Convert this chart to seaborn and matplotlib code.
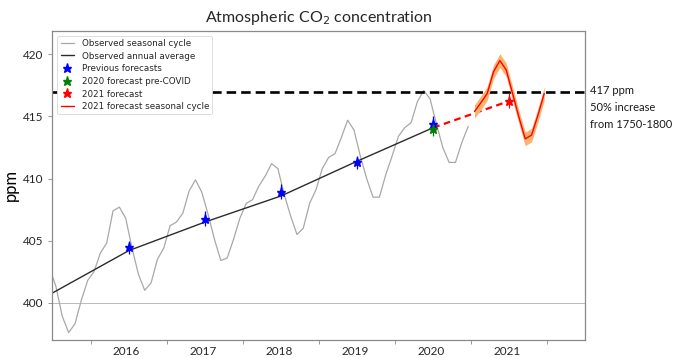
import numpy as np
import pandas as pd
import matplotlib
matplotlib.use('Agg')
import matplotlib.pyplot as plt
import seaborn as sns

sns.set_theme(style='white')

# Observed monthly CO2 (ppm), June 2015 to December 2020
obs_start_year, obs_start_month = 2015, 6
obs_monthly = [402.8, 401.3, 398.9, 397.6, 398.3, 400.2, 401.8,
               402.5, 404.0, 404.8, 407.4, 407.7, 406.8, 404.4, 402.3, 401.0, 401.6, 403.5, 404.4,
               406.2, 406.5, 407.2, 409.0, 409.9, 408.9, 407.1, 405.1, 403.4, 403.6, 405.1, 406.8,
               408.0, 408.3, 409.4, 410.2, 411.2, 410.8, 408.7, 407.0, 405.5, 406.0, 408.0, 409.1,
               410.8, 411.7, 412.0, 413.3, 414.7, 413.9, 411.8, 410.0, 408.5, 408.5, 410.3, 411.8,
               413.4, 414.1, 414.5, 416.2, 417.1, 416.4, 414.4, 412.5, 411.3, 411.3, 412.9, 414.2]

# Observed annual averages
annual_years = [2015, 2016, 2017, 2018, 2019, 2020]
annual_ppm = [400.8, 404.2, 406.5, 408.6, 411.4, 414.1]

# Previous forecasts
prev_years = [2016, 2017, 2018, 2019, 2020]
prev_ppm = [404.45, 406.75, 408.95, 411.3, 414.4]
prev_err = [0.55, 0.6, 0.6, 0.55, 0.6]

# 2020 forecast pre-COVID
precovid_year = [2020]
precovid_ppm = [414.0]
precovid_err = [0.6]

# 2021 forecast
fc_year = [2021]
fc_ppm = [416.25]
fc_err = [0.6]

# 2021 forecast seasonal cycle (monthly)
fc_monthly = [415.4, 416.1, 416.85, 418.6, 419.5, 418.75, 416.85, 414.95, 413.2, 413.5, 415.1, 416.85]
fc_band = 0.55

threshold = 417


def decimal_months(year, month, n):
    """Mid-month positions in decimal years."""
    idx = np.arange(n) + (month - 1)
    return year + (idx + 0.5) / 12


obs_df = pd.DataFrame({'t': decimal_months(obs_start_year, obs_start_month, len(obs_monthly)),
                       'ppm': obs_monthly})
ann_df = pd.DataFrame({'t': np.array(annual_years) + 0.5, 'ppm': annual_ppm})
fc_df = pd.DataFrame({'t': decimal_months(2021, 1, len(fc_monthly)), 'ppm': fc_monthly})

fig = plt.figure(figsize=(6.8, 3.58), dpi=100)
ax = fig.add_axes([0.0765, 0.0503, 0.7845, 0.8637])

sns.lineplot(data=obs_df, x='t', y='ppm', ax=ax, color='#a8a8a8', lw=0.9,
             sort=False, estimator=None, label='Observed seasonal cycle')
sns.lineplot(data=ann_df, x='t', y='ppm', ax=ax, color='#2b2b2b', lw=1.0,
             sort=False, estimator=None, label='Observed annual average')

ax.axhline(400, color='#b0b0b0', lw=0.6, zorder=1)
ax.axhline(threshold, color='black', lw=1.9, dashes=(3.6, 1.9), zorder=2)

# dashed line from last observed annual mean to 2021 forecast
ax.plot([ann_df['t'].iloc[-1], fc_year[0] + 0.5], [annual_ppm[-1], fc_ppm[0]],
        color='red', lw=1.6, dashes=(3.0, 2.0), zorder=3)

ax.fill_between(fc_df['t'], fc_df['ppm'] - fc_band, fc_df['ppm'] + fc_band,
                color='#fdb36e', lw=0, zorder=3)

star_kw = dict(ms=6.5, zorder=6, linestyle='none')
ax.errorbar(np.array(prev_years) + 0.5, prev_ppm, yerr=prev_err, fmt='none',
            ecolor='blue', elinewidth=0.9, zorder=5)
ax.plot(np.array(prev_years) + 0.5, prev_ppm, '*', color='blue', label='Previous forecasts', **star_kw)
ax.errorbar(np.array(precovid_year) + 0.5, precovid_ppm, yerr=precovid_err, fmt='none',
            ecolor='green', elinewidth=0.9, zorder=5)
ax.plot(np.array(precovid_year) + 0.5, precovid_ppm, '*', color='green',
        label='2020 forecast pre-COVID', **star_kw)
ax.errorbar(np.array(fc_year) + 0.5, fc_ppm, yerr=fc_err, fmt='none',
            ecolor='red', elinewidth=0.9, zorder=5)
ax.plot(np.array(fc_year) + 0.5, fc_ppm, '*', color='red', label='2021 forecast', **star_kw)

sns.lineplot(data=fc_df, x='t', y='ppm', ax=ax, color='red', lw=1.0, sort=False,
             estimator=None, label='2021 forecast seasonal cycle', zorder=4)

ax.set_xlim(2015.49, 2022.5)
ax.set_ylim(397, 421.9)

year_ticks = list(range(2016, 2023))
ax.set_xticks(year_ticks)
ax.set_xticklabels([])
label_years = list(range(2016, 2022))
ax.set_xticks([y + 0.47 for y in label_years], minor=True)
ax.set_xticklabels([str(y) for y in label_years], minor=True, family='Lato', fontsize=8.5, color='#262626')
ax.tick_params(axis='x', which='major', direction='out', length=3, width=0.6, color='#888888', bottom=True)
ax.tick_params(axis='x', which='minor', length=0, pad=4, bottom=True)

ax.set_yticks([400, 405, 410, 415, 420])
ax.set_yticklabels(['400', '405', '410', '415', '420'], family='Lato', fontsize=8.5, color='#262626')
ax.tick_params(axis='y', direction='out', length=3, width=0.6, color='#888888', left=True, pad=3)

ax.set_xlabel('')
ax.set_ylabel('ppm', family='Lato', fontsize=12, color='black', labelpad=3)

for sp in ax.spines.values():
    sp.set_color('#8a8a8a')
    sp.set_linewidth(0.9)

ax.set_title('Atmospheric CO$_2$ concentration', family='Lato', fontsize=11.5, pad=6)

ax.text(1.008, (threshold - 397) / (421.9 - 397) + 0.022, '417 ppm\n50% increase\nfrom 1750-1800',
        transform=ax.transAxes, family='Lato', fontsize=8, va='top', ha='left',
        linespacing=1.68, color='#1a1a1a')

leg = ax.legend(loc='upper left', fontsize=6.3, handlelength=1.5, labelspacing=0.42,
                borderpad=0.35, handletextpad=0.9, frameon=True, framealpha=1.0,
                bbox_to_anchor=(0.002, 0.998))
leg.get_frame().set_edgecolor('#d8d8d8')
leg.get_frame().set_linewidth(0.6)

fig.savefig('out.png', dpi=100)
